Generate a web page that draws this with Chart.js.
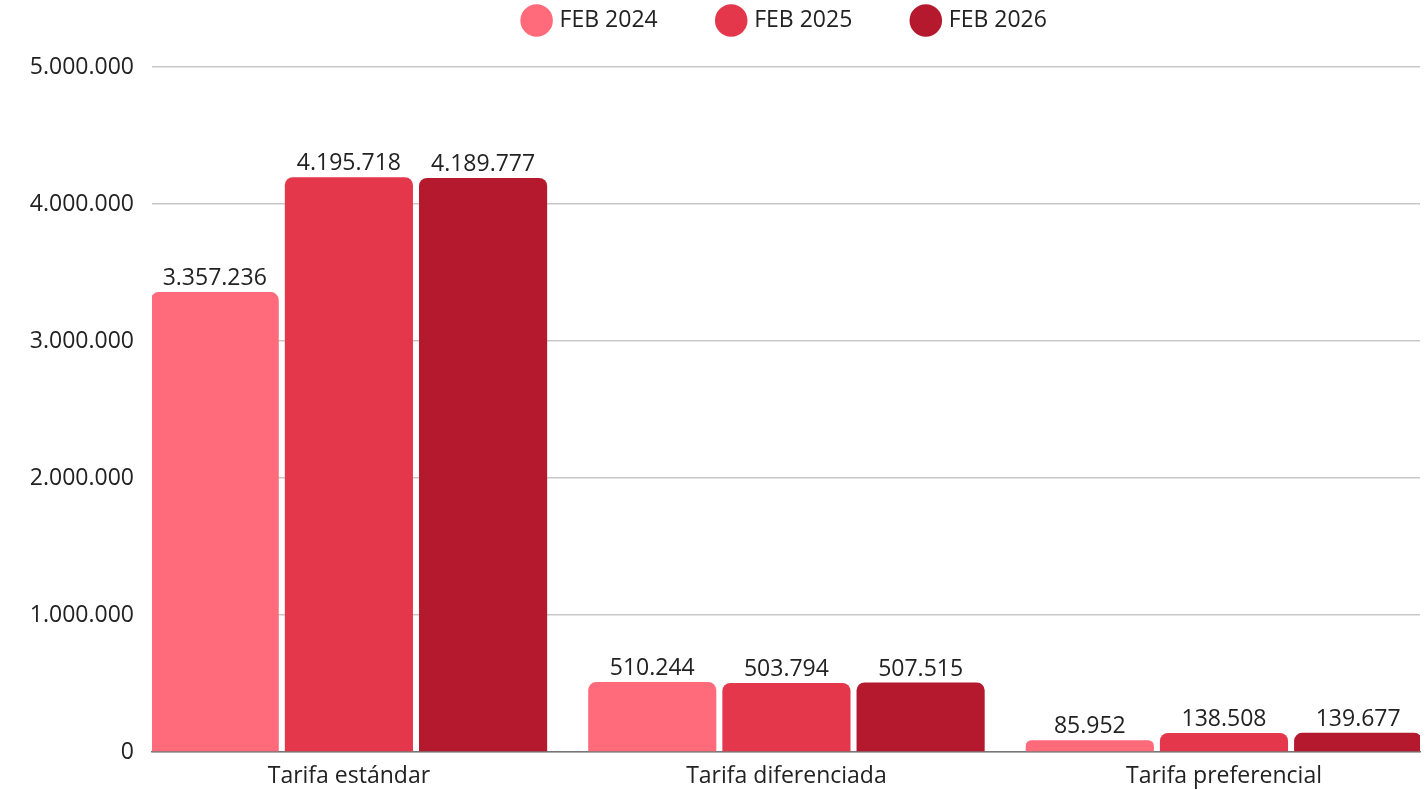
<!DOCTYPE html>
<html>
<head>
<meta charset="utf-8">
<script src="https://cdn.jsdelivr.net/npm/chart.js@4.4.1/dist/chart.umd.min.js"></script>
<style>
  html, body { margin: 0; padding: 0; background: #fff; overflow: hidden; }
  #wrap { width: 1425px; height: 790px; }
</style>
</head>
<body>
<div id="wrap"><canvas id="tarifas-chart"></canvas></div>
<script>
const categories = ["Tarifa estándar", "Tarifa diferenciada", "Tarifa preferencial"];
const seriesNames = ["FEB 2024", "FEB 2025", "FEB 2026"];
const feb2024 = [3357236, 510244, 85952];
const feb2025 = [4195718, 503794, 138508];
const feb2026 = [4189777, 507515, 139677];
const yTicks = [0, 1000000, 2000000, 3000000, 4000000, 5000000];

const colors = ["#ff6b7b", "#e5374b", "#b5192e"];
const FONT = "'Open Sans', 'Liberation Sans', sans-serif";
const LEGEND_GAP = 62;

// 3.357.236 style
function fmt(n) {
  return String(n).replace(/\B(?=(\d{3})+(?!\d))/g, ".");
}

const valueLabels = {
  id: "valueLabels",
  afterDatasetsDraw(chart) {
    const ctx = chart.ctx;
    ctx.save();
    ctx.font = "23px " + FONT;
    ctx.fillStyle = "#222";
    ctx.textAlign = "center";
    ctx.textBaseline = "bottom";
    chart.data.datasets.forEach((ds, i) => {
      chart.getDatasetMeta(i).data.forEach((bar, j) => {
        ctx.fillText(fmt(ds.data[j].y), bar.x, bar.y - 2);
      });
    });
    ctx.restore();
  }
};

// legend padding is big for the item spacing, so pin its height here
const legendHeight = {
  id: "legendHeight",
  beforeUpdate(chart) {
    const lg = chart.legend;
    if (!lg || lg._patched) return;
    const fit = lg.fit;
    lg.fit = function () { fit.call(this); this.height = 67 + 53; };
    lg._patched = true;
  }
};

const seriesValues = [feb2024, feb2025, feb2026];

new Chart(document.getElementById("tarifas-chart"), {
  type: "bar",
  data: {
    datasets: seriesNames.map((name, i) => ({
      label: name,
      data: seriesValues[i].map((v, j) => ({ x: j, y: v })),
      backgroundColor: colors[i],
      borderRadius: 8,
      categoryPercentage: 0.92,
      barPercentage: 0.955
    }))
  },
  options: {
    responsive: true,
    maintainAspectRatio: false,
    animation: false,
    layout: { padding: { left: 0, right: 5, top: -53, bottom: 0 } },
    plugins: {
      tooltip: { enabled: false },
      legend: {
        position: "top",
        fullSize: false,
        labels: {
          usePointStyle: true,
          pointStyle: "circle",
          boxWidth: 25,
          boxHeight: 25,
          padding: LEGEND_GAP,
          color: "#222",
          font: { family: FONT, size: 23 }
        }
      }
    },
    scales: {
      x: {
        type: "linear",
        min: -0.45,
        max: 2.448,
        offset: false,
        afterFit: s => { s.height = 38; },
        grid: { display: false, drawTicks: false },
        border: { display: true, color: "#777", width: 1.5 },
        ticks: {
          stepSize: 1,
          includeBounds: false,
          padding: 11,
          color: "#222",
          font: { family: FONT, size: 23 },
          callback: v => categories[v] ?? ""
        }
      },
      y: {
        min: 0,
        max: 5000000,
        afterFit: s => { s.width = 152; },
        grid: { color: "#c8c8c8", lineWidth: 1.5, drawTicks: false },
        border: { display: false },
        afterBuildTicks: s => { s.ticks = yTicks.map(v => ({ value: v })); },
        ticks: {
          padding: 18,
          color: "#222",
          font: { family: FONT, size: 23 },
          callback: v => fmt(v)
        }
      }
    }
  },
  plugins: [valueLabels, legendHeight]
});
</script>
</body>
</html>
